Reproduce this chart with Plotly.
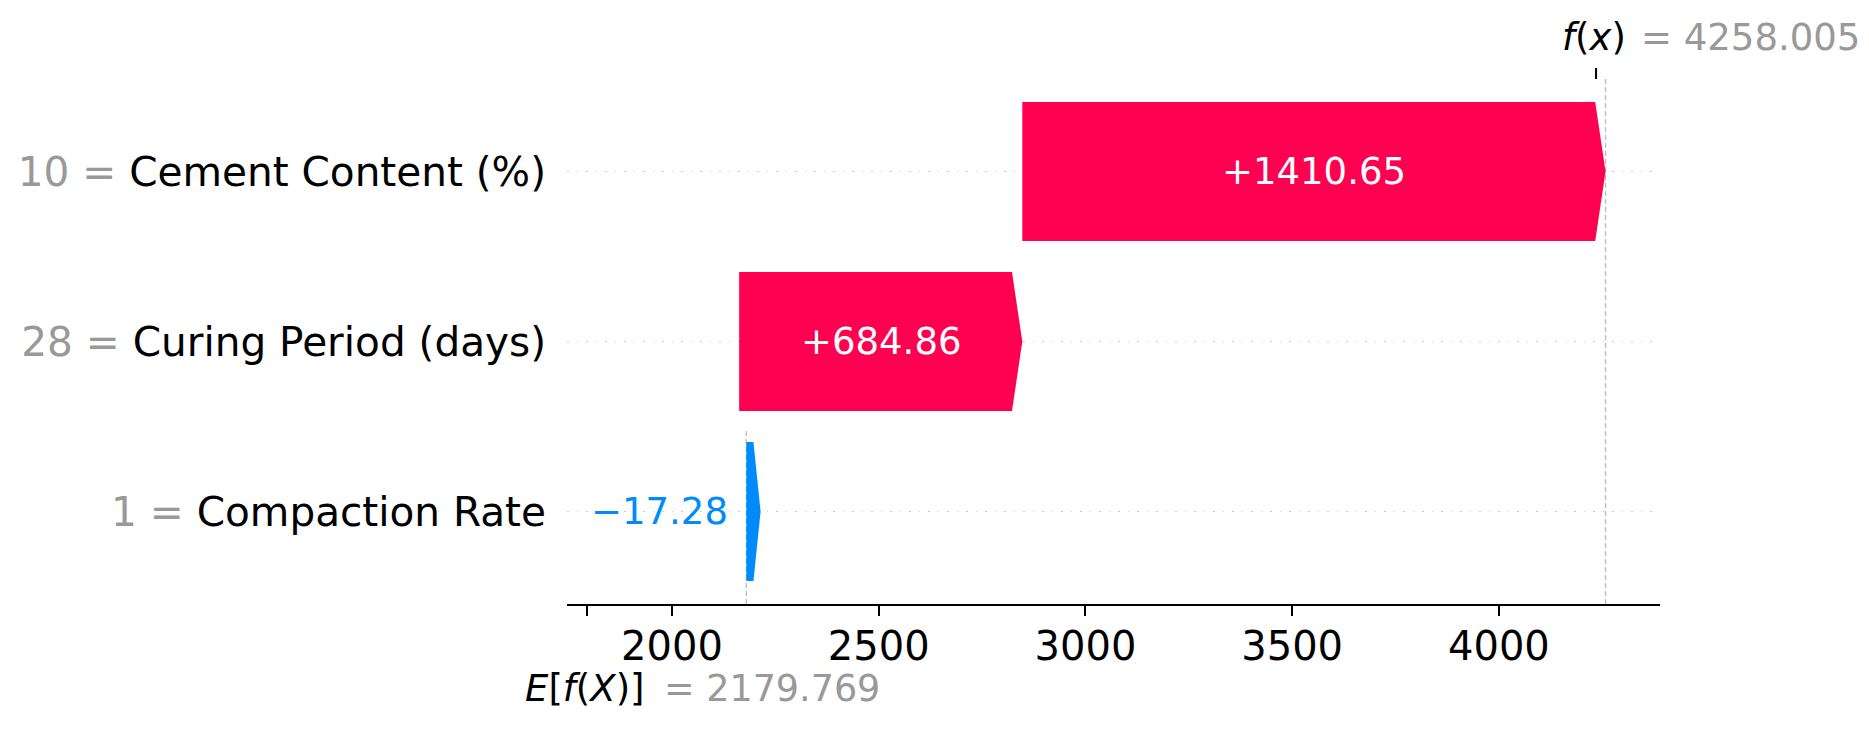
import plotly.graph_objects as go

# ---- data ----
features = ["Cement Content (%)", "Curing Period (days)", "Compaction Rate"]
feature_values = ["10", "28", "1"]
shap_values = [1410.65, 684.86, -17.28]
bar_labels = ["+1410.65", "+684.86", "\u221217.28"]
base_value = 2179.769
fx_value = 4258.005
x_ticks = [1795.2, 2000, 2500, 3000, 3500, 4000]
x_tick_labels = ["", "2000", "2500", "3000", "3500", "4000"]

RED = "#ff0051"
BLUE = "#008bfb"
GRAY = "#999999"
FONT = "DejaVu Sans"

n = len(features)
rows = [n - 1 - i for i in range(n)]  # first feature at top

# accumulate from the bottom row upward, starting at the base value
starts = [0.0] * n
ends = [0.0] * n
cur = base_value
for i in reversed(range(n)):
    starts[i] = cur
    cur += shap_values[i]
    ends[i] = cur

half_h = 0.409
head_len = 25.0

fig = go.Figure()
for i in range(n):
    s, e, y, d = starts[i], ends[i], rows[i], shap_values[i]
    if d >= 0:
        hl = min(head_len, d)
        xs = [s, e - hl, e, e - hl, s, s]
        color = RED
    else:
        if -d >= head_len:
            xs = [s, e + head_len, e, e + head_len, s, s]
        else:
            a = -d
            xs = [s, s + a, s + 2 * a, s + a, s, s]
        color = BLUE
    ys = [y - half_h, y - half_h, y, y + half_h, y + half_h, y - half_h]
    fig.add_trace(go.Scatter(x=xs, y=ys, mode="lines", fill="toself",
                             fillcolor=color, line=dict(width=0, color=color),
                             hoverinfo="skip", showlegend=False))

annotations = []
for i in range(n):
    s, e, y, d = starts[i], ends[i], rows[i], shap_values[i]
    if abs(d) > 200:
        annotations.append(dict(x=(s + e) / 2, y=y, xref="x", yref="y", text=bar_labels[i],
                                showarrow=False, font=dict(family=FONT, size=37, color="white")))
    else:
        annotations.append(dict(x=min(s, e), y=y, xref="x", yref="y", text=bar_labels[i],
                                showarrow=False, xanchor="right", xshift=-9,
                                font=dict(family=FONT, size=37, color=BLUE if d < 0 else RED)))

# E[f(X)] and f(x) labels
annotations += [
    dict(x=base_value, y=0, xref="x", yref="paper", yanchor="middle", yshift=-84,
         xanchor="right", xshift=-99, showarrow=False,
         text="<i>E</i>[<i>f</i>(<i>X</i>)]", font=dict(family=FONT, size=37, color="black")),
    dict(x=base_value, y=0, xref="x", yref="paper", yanchor="middle", yshift=-84,
         xanchor="left", xshift=-84, showarrow=False,
         text="= %0.3f" % base_value, font=dict(family=FONT, size=36.5, color=GRAY)),
    dict(x=fx_value, y=1, xref="x", yref="paper", yanchor="middle", yshift=42,
         xanchor="right", xshift=22, showarrow=False,
         text="<i>f</i>(<i>x</i>)", font=dict(family=FONT, size=37, color="black")),
    dict(x=fx_value, y=1, xref="x", yref="paper", yanchor="middle", yshift=42,
         xanchor="left", xshift=33, showarrow=False,
         text="= %0.3f" % fx_value, font=dict(family=FONT, size=37, color=GRAY)),
]

shapes = [
    dict(type="line", xref="x", yref="paper", x0=base_value, x1=base_value, y0=0, y1=1 / n,
         line=dict(color="#bbbbbb", width=1.3, dash="5px,3px"), layer="below"),
    dict(type="line", xref="x", yref="paper", x0=fx_value, x1=fx_value, y0=0, y1=1,
         line=dict(color="#bbbbbb", width=1.3, dash="5px,3px"), layer="below"),
    dict(type="line", xref="x", yref="paper", x0=fx_value - 23, x1=fx_value - 23, y0=1, y1=1 + 11 / 525,
         line=dict(color="black", width=2)),
]

ytext = ['<span style="color:%s">%s = </span>%s' % (GRAY, v, f) for v, f in zip(feature_values, features)]

fig.update_layout(
    width=1869, height=731,
    margin=dict(l=567, r=209, t=79, b=127),
    paper_bgcolor="white", plot_bgcolor="white",
    font=dict(family=FONT),
    annotations=annotations, shapes=shapes,
    xaxis=dict(range=[1746.1, 4389.7], tickvals=x_ticks, ticktext=x_tick_labels,
               ticks="outside", ticklen=10, tickwidth=2, tickcolor="black",
               showline=True, linecolor="black", linewidth=2,
               showgrid=False, zeroline=False, ticklabelstandoff=-4,
               tickfont=dict(family=FONT, size=40, color="black")),
    yaxis=dict(range=[-0.544, 2.544], tickvals=rows, ticktext=ytext,
               showgrid=True, gridcolor="#cccccc", griddash="1.5px,8px", gridwidth=1.3,
               zeroline=False, showline=False, ticks="",
               ticklabelstandoff=20,
               tickfont=dict(family=FONT, size=40.6, color="black")),
)

fig.write_html("out.html", config={"displayModeBar": False},
               post_script="document.body.style.margin='0px';")
